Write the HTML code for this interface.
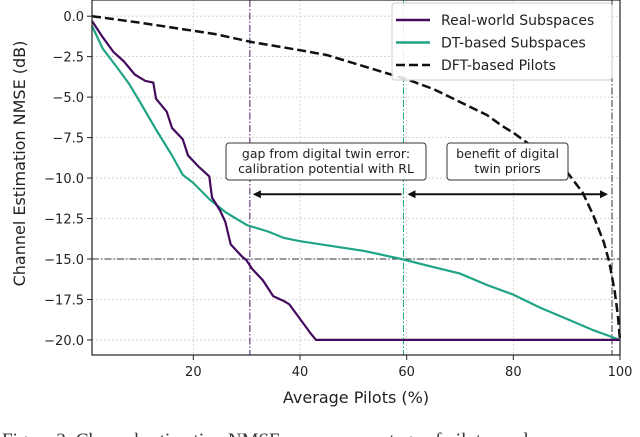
<!DOCTYPE html>
<html><head><meta charset="utf-8"><style>
html,body{margin:0;padding:0;background:#fff;overflow:hidden;width:640px;height:437px}
svg{display:block}
text{font-family:"DejaVu Sans","Liberation Sans",sans-serif;fill:#222}
</style></head><body>
<svg id="chart" width="640" height="437" viewBox="0 0 640 437" xmlns="http://www.w3.org/2000/svg">
<g id="grid"></g>
<g id="refs"></g>
<g id="series"></g>
<g id="axes"></g>
<g id="annot"></g>
<g id="legend"></g>
<text x="2" y="446" style="font-family:'Liberation Serif',serif;font-size:19px;fill:#333">Figure 2: Channel estimation NMSE versus percentage of pilots used</text>
</svg>
<script>
const xTicks=[20,40,60,80,100];
const yTicks=[0,-2.5,-5,-7.5,-10,-12.5,-15,-17.5,-20];
const yTickLabels=["0.0","\u22122.5","\u22125.0","\u22127.5","\u221210.0","\u221212.5","\u221215.0","\u221217.5","\u221220.0"];
const realX=[1,3,5,7,9,11,12.5,13,15,16,18,19,21,23,23.5,25,26,27,29,30,31,33,35,37,38,40,42,43,46,100];
const realY=[-0.3,-1.3,-2.2,-2.8,-3.6,-4.0,-4.1,-5.1,-5.9,-6.9,-7.6,-8.6,-9.3,-9.9,-11.2,-12.0,-12.7,-14.1,-14.8,-15.1,-15.6,-16.3,-17.3,-17.6,-17.8,-18.7,-19.6,-20.0,-20.0,-20.0];
const dtX=[1,3,6,8,10,13,16,18,20,23,26,30,34,37,40,46,52,59,65,70,75,80,85,90,95,100];
const dtY=[-0.6,-2.0,-3.3,-4.2,-5.3,-7.0,-8.6,-9.8,-10.3,-11.3,-12.1,-12.9,-13.3,-13.7,-13.9,-14.2,-14.5,-15.0,-15.5,-15.9,-16.6,-17.2,-18.0,-18.7,-19.4,-20.0];
const dftX=[1,10,20,24,31,40,45,50,55,60,65,70,75,78,80,85,88,90,93,95,97,98,99,99.6,100];
const dftY=[0,-0.4,-0.9,-1.1,-1.6,-2.1,-2.4,-2.9,-3.4,-3.9,-4.5,-5.3,-6.1,-6.8,-7.2,-8.4,-9.0,-9.6,-10.9,-12.3,-14.0,-15.2,-17.0,-18.5,-20.0];
const vRefs=[30.6,59.4,98.5];
const hRef=-15;
const arrowY=-11;

const L=92,R=620,T=0,B=355;
const X0=1,X1=100,Y0=-20.93,Y1=1.0;
const sx=v=>L+(v-X0)/(X1-X0)*(R-L);
const sy=v=>B-(v-Y0)/(Y1-Y0)*(B-T);
const NS="http://www.w3.org/2000/svg";
function mk(tag,attrs,parent){const e=document.createElementNS(NS,tag);for(const k in attrs)e.setAttribute(k,attrs[k]);parent.appendChild(e);return e;}
const grid=document.getElementById('grid'),axes=document.getElementById('axes'),series=document.getElementById('series'),refs=document.getElementById('refs'),annot=document.getElementById('annot'),legend=document.getElementById('legend');

xTicks.forEach(v=>{
  const g=mk('line',{x1:sx(v),x2:sx(v),y1:T,y2:B,stroke:'#ccc','stroke-width':0.8,'stroke-dasharray':'2,2'},grid);
  
  
  const t=mk('line',{x1:sx(v),x2:sx(v),y1:B,y2:B+5,stroke:'#222','stroke-width':1},axes);
  
  
  const l=mk('text',{x:sx(v),y:B+21,'text-anchor':'middle','font-size':13},axes);l.textContent=v;
  
  
});
yTicks.forEach((v,i)=>{
  const g=mk('line',{x1:L,x2:R,y1:sy(v),y2:sy(v),stroke:'#ccc','stroke-width':0.8,'stroke-dasharray':'2,2'},grid);
  
  
  const t=mk('line',{x1:L-5,x2:L,y1:sy(v),y2:sy(v),stroke:'#222','stroke-width':1},axes);
  
  
  const l=mk('text',{x:L-8,y:sy(v)+5,'text-anchor':'end','font-size':13},axes);l.textContent=yTickLabels[i];
  
  
});
const frame=mk('rect',{x:L,y:T,width:R-L,height:B-T,fill:'none',stroke:'#222','stroke-width':1.2},axes);


const xl=mk('text',{x:(L+R)/2,y:B+48,'text-anchor':'middle','font-size':16},axes);xl.textContent='Average Pilots (%)';


const yl=mk('text',{x:0,y:0,'text-anchor':'middle','font-size':16,transform:`translate(25,${(T+B)/2-14}) rotate(-90)`},axes);yl.textContent='Channel Estimation NMSE (dB)';



const refColors=['#4b1a6e','#20a486','#333'];
vRefs.forEach((v,i)=>{
  const r=mk('line',{x1:sx(v),x2:sx(v),y1:T,y2:B,stroke:refColors[i],'stroke-width':1,'stroke-dasharray':'7,2,1.5,2'},refs);
  
  
});
const hr=mk('line',{x1:L,x2:R,y1:sy(hRef),y2:sy(hRef),stroke:'#333','stroke-width':1,'stroke-dasharray':'7,2,1.5,2'},refs);



function path(xs,ys){return xs.map((x,i)=>(i?'L':'M')+sx(x).toFixed(1)+','+sy(ys[i]).toFixed(1)).join('');}
const p2=mk('path',{d:path(dtX,dtY),fill:'none',stroke:'#20a486','stroke-width':2.2},series);


const p1=mk('path',{d:path(realX,realY),fill:'none',stroke:'#440a5e','stroke-width':2.2},series);


const p3=mk('path',{d:path(dftX,dftY),fill:'none',stroke:'#111','stroke-width':2.5,'stroke-dasharray':'9,4'},series);



// annotations
const ay=sy(arrowY);
function arrow(x1,x2,both,name){
  const g=mk('g',{},annot);
  
  
  mk('line',{x1:x1+2,x2:x2-(both?2:0),y1:ay,y2:ay,stroke:'#111','stroke-width':2},g);
  mk('path',{d:`M${x1},${ay}l8,-4l0,8z`,fill:'#111'},g);
  if(both)mk('path',{d:`M${x2},${ay}l-8,-4l0,8z`,fill:'#111'},g);
}
arrow(sx(vRefs[0])+3,sx(vRefs[1])-2,false,'gap-arrow');
arrow(sx(vRefs[1])+4,sx(vRefs[2])-4,true,'benefit-arrow');
function box(x,y,w,h,lines,name){
  const g=mk('g',{},annot);
  
  
  mk('rect',{x,y,width:w,height:h,rx:3,fill:'#fff',stroke:'#333','stroke-width':1},g);
  lines.forEach((s,i)=>{const t=mk('text',{x:x+w/2,y:y+15+i*15,'text-anchor':'middle','font-size':12.5},g);t.textContent=s;});
}
box(226,143,200,37,['gap from digital twin error:','calibration potential with RL'],'gap-annotation');
box(447,143,121,37,['benefit of digital','twin priors'],'benefit-annotation');

// legend
mk('rect',{x:392,y:3,width:220,height:77,rx:3,fill:'#fff','fill-opacity':0.85,stroke:'#ccc','stroke-width':1},legend);
const legItems=[['Real-world Subspaces','#440a5e',null],['DT-based Subspaces','#20a486',null],['DFT-based Pilots','#111','9,4']];
legItems.forEach((it,i)=>{
  const y=20+i*22.5;
  const g=mk('g',{},legend);
  
  
  const a={x1:396,x2:430,y1:y,y2:y,stroke:it[1],'stroke-width':2.5};
  if(it[2])a['stroke-dasharray']=it[2];
  mk('line',a,g);
  const t=mk('text',{x:441,y:y+5,'font-size':14},g);t.textContent=it[0];
});
</script>
</body></html>
